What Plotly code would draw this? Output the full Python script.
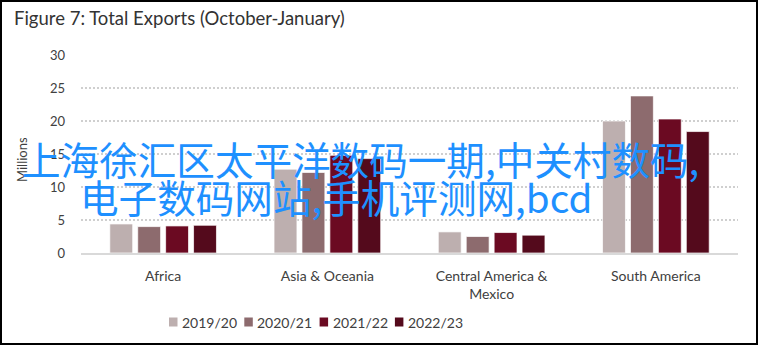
import plotly.graph_objects as go

categories = ["Africa", "Asia & Oceania", "Central America &<br>Mexico", "South America"]
series_names = ["2019/20", "2020/21", "2021/22", "2022/23"]
v_2019_20 = [4.4, 12.7, 3.2, 20.0]
v_2020_21 = [4.0, 12.2, 2.5, 23.8]
v_2021_22 = [4.1, 14.8, 3.1, 20.3]
v_2022_23 = [4.2, 14.3, 2.7, 18.4]
series_values = [v_2019_20, v_2020_21, v_2021_22, v_2022_23]
colors = ["#BDAFAF", "#8D6B6E", "#6B0A22", "#540A1C"]
y_ticks = [0, 5, 10, 15, 20, 25, 30]

title_text = "Figure 7: Total Exports (October-January)"
y_title = "Millions"
overlay_line1 = "上海徐汇区太平洋数码一期,中关村数码,"
overlay_line2 = "电子数码网站,手机评测网,bcd"

W, H = 760, 346
L, R, T, B = 81, 738, 55, 253  # plot area in pixels


def px_x(px):
    return (px - L) / (R - L)


def px_y(py):
    return (B - py) / (B - T)


fig = go.Figure()
for name, vals, col in zip(series_names, series_values, colors):
    fig.add_trace(go.Bar(
        x=categories, y=vals, name=name, marker_color=col,
        marker_line=dict(color="rgba(255,255,255,0.7)", width=1),
        showlegend=False,
    ))

tick_font = dict(family="Lato, 'Open Sans', sans-serif", size=13, color="#404040")
xtick_font = dict(family="Lato, 'Open Sans', sans-serif", size=14, color="#404040")

fig.update_layout(
    width=W, height=H,
    margin=dict(l=L, r=W - R, t=T, b=H - B),
    paper_bgcolor="white", plot_bgcolor="white",
    barmode="group", bargap=0.32, bargroupgap=0.18,
    title=dict(
        text=title_text, xref="container", yref="container",
        x=14 / W, xanchor="left", y=1 - 19 / H, yanchor="middle",
        font=dict(family="Lato, 'Open Sans', sans-serif", size=18.5, color="#333333"),
    ),
    xaxis=dict(
        showgrid=False, showline=True, linecolor="#D9D9D9", linewidth=2,
        tickfont=xtick_font, ticks="", fixedrange=True, ticklabelstandoff=9,
    ),
    yaxis=dict(
        range=[0, 30], tickvals=y_ticks, showgrid=True, gridcolor="#CFCFCF",
        gridwidth=1.5, griddash="2px,2px", zeroline=False, showline=False,
        tickfont=tick_font, ticklabelstandoff=15,
    ),
    showlegend=False,
)

annotations = [
    dict(text=y_title, x=px_x(22), y=px_y(160), xref="paper", yref="paper",
         textangle=-90, showarrow=False, font=tick_font,
         xanchor="center", yanchor="middle"),
]

# compact legend (square swatch + label) laid out below the axis
legend_left, legend_step, legend_y = 169, 75.3, 322
for i, (name, col) in enumerate(zip(series_names, colors)):
    x0 = legend_left + i * legend_step
    fig.add_shape(type="rect", xref="paper", yref="paper",
                  x0=px_x(x0), x1=px_x(x0 + 8.5),
                  y0=px_y(legend_y + 4.5), y1=px_y(legend_y - 4.5),
                  line=dict(width=0), fillcolor=col)
    annotations.append(dict(text=name, x=px_x(x0 + 11), y=px_y(legend_y),
                            xref="paper", yref="paper", showarrow=False,
                            xanchor="left", yanchor="middle", font=xtick_font))

annotations += [
    dict(text=overlay_line1, x=px_x(20), y=px_y(158), xref="paper", yref="paper",
         showarrow=False, xanchor="left", yanchor="middle",
         font=dict(family="'Noto Sans CJK SC', sans-serif", size=38.6, color="#1E90FF")),
    dict(text=overlay_line2, x=px_x(78), y=px_y(196), xref="paper", yref="paper",
         showarrow=False, xanchor="left", yanchor="middle",
         font=dict(family="'Noto Sans CJK SC', sans-serif", size=38.6, color="#1E90FF")),
]
fig.update_layout(annotations=annotations)

fig.add_shape(type="rect", xref="paper", yref="paper",
              x0=px_x(1), x1=px_x(757), y0=px_y(344), y1=px_y(1),
              line=dict(color="black", width=2), fillcolor="rgba(0,0,0,0)", layer="above")

fig.write_html("out.html")
